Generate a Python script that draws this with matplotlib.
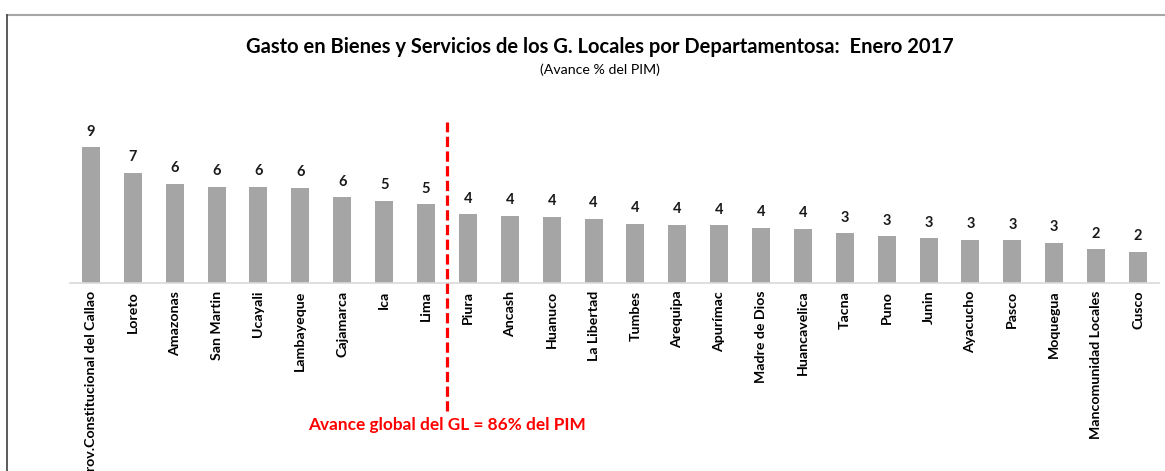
import matplotlib.pyplot as plt
from matplotlib.lines import Line2D

departamentos = ['Prov.Constitucional del Callao', 'Loreto', 'Amazonas', 'San Martin', 'Ucayali',
                 'Lambayeque', 'Cajamarca', 'Ica', 'Lima', 'Piura', 'Ancash', 'Huanuco',
                 'La Libertad', 'Tumbes', 'Arequipa', 'Apurímac', 'Madre de Dios', 'Huancavelica',
                 'Tacna', 'Puno', 'Junin', 'Ayacucho', 'Pasco', 'Moquegua',
                 'Mancomunidad Locales', 'Cusco']
avance = [8.85, 7.19, 6.45, 6.27, 6.26, 6.21, 5.60, 5.36, 5.10, 4.45, 4.38, 4.31, 4.18,
          3.84, 3.77, 3.76, 3.58, 3.51, 3.22, 3.05, 2.92, 2.81, 2.75, 2.61, 2.18, 2.01]
avance_global = 86
corte = 8.5  # separa Lima de Piura

plt.rcParams['font.family'] = ['Lato', 'DejaVu Sans']

fig = plt.figure(figsize=(11.65, 4.71), dpi=100)
ax = fig.add_axes([0.0601, 0.4002, 0.9347, 0.3248])

x = list(range(len(departamentos)))
ax.bar(x, avance, width=0.43, color='#a5a5a5', zorder=2)
for xi, v in zip(x, avance):
    ax.annotate(f'{v:.0f}', (xi, v), xytext=(0, 6), textcoords='offset points',
                ha='center', va='bottom', fontsize=10.5, fontweight='bold', color='#1a1a1a')

ax.set_xlim(-0.5, len(departamentos) - 0.5)
ax.set_ylim(0, 10)
ax.set_xticks(x)
ax.set_xticklabels(departamentos, rotation=90, fontsize=10.2, fontweight='bold', va='top')
ax.tick_params(axis='x', length=0, pad=6)
ax.set_yticks([])
for s in ['top', 'right', 'left']:
    ax.spines[s].set_visible(False)
ax.spines['bottom'].set_color('#d9d9d9')
ax.spines['bottom'].set_linewidth(1.2)

ax.axvline(corte, ymin=-0.84, ymax=1.05, color='#ff0000', lw=2.3,
           dashes=(3.2, 1.4), clip_on=False, zorder=3)
ax.text(corte, -0.93, f'Avance global del GL = {avance_global}% del PIM', transform=ax.get_xaxis_transform(),
        ha='center', va='center', color='#ff0000', fontsize=12.4, fontweight='bold')

fig.text(0.515, 0.9, 'Gasto en Bienes y Servicios de los G. Locales por Departamentosa:  Enero 2017',
         ha='center', va='center', fontsize=14.5, fontweight='bold')
fig.text(0.515, 0.851, '(Avance % del PIM)', ha='center', va='center', fontsize=10.2)

# marco
fig.add_artist(Line2D([7 / 1165, 1], [1 - 15 / 471, 1 - 15 / 471], color='#a6a6a6', lw=1.5))
fig.add_artist(Line2D([7 / 1165, 7 / 1165], [0, 1 - 15 / 471], color='#404040', lw=1.2))

fig.savefig('out.png', dpi=100)
